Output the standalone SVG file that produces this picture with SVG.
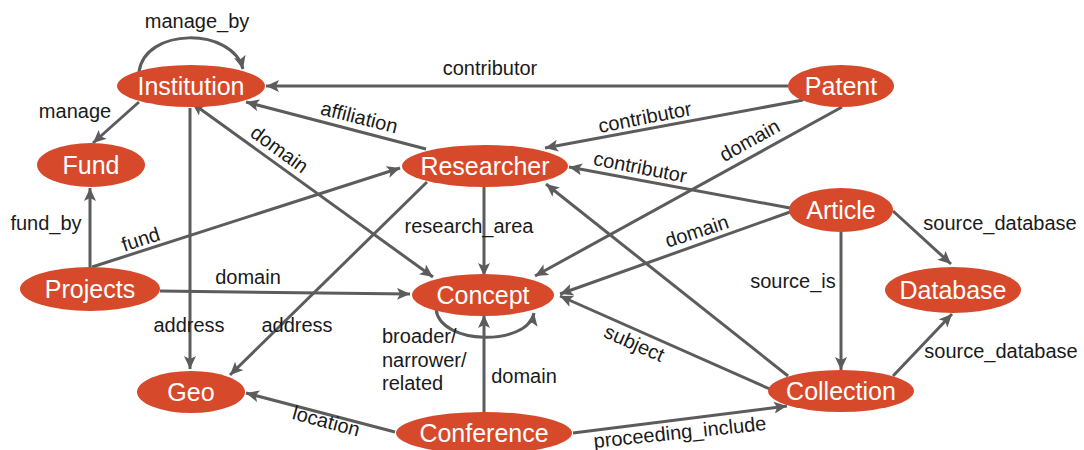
<svg xmlns="http://www.w3.org/2000/svg" width="1084" height="450" viewBox="0 0 1084 450">
<style>
.n ellipse{fill:#d64a2b}
.n text{fill:#fff;font-family:"Liberation Sans",Arial,sans-serif;font-size:25px;text-anchor:middle}
.e path{fill:none;stroke:#5c5c5c;stroke-width:3;marker-end:url(#ah)}
.l{font-family:"Liberation Sans",Arial,sans-serif;font-size:20px;fill:#1a1a1a;text-anchor:middle}
</style>
<defs>
<marker id="ah" markerUnits="userSpaceOnUse" markerWidth="14" markerHeight="12" refX="13" refY="6" orient="auto">
<path d="M0,0 L13,6 L0,12 L3,6 Z" fill="#5c5c5c"/>
</marker>
<marker id="as" markerUnits="userSpaceOnUse" markerWidth="14" markerHeight="12" refX="13" refY="6" orient="auto-start-reverse">
<path d="M0,0 L13,6 L0,12 L3,6 Z" fill="#5c5c5c"/>
</marker>
</defs>
<rect width="1084" height="450" fill="#fff"/>
<g id="connectors" class="e">
<path d="M139,72 C145,27 232,27 243,69"/>
<path d="M139,102 L93,143"/>
<path d="M90,267 L90,188"/>
<path d="M92,267 L400,168"/>
<path d="M160,291 L410,294"/>
<path d="M190,108 L190,369"/>
<path d="M427,182 L230,375"/>
<path d="M192,103 L433,277" style="marker-start:url(#as)"/>
<path d="M426,149 L246,102"/>
<path d="M788,86 L266,86"/>
<path d="M803,100 L545,148"/>
<path d="M842,107 L535,276"/>
<path d="M790,208 L569,167"/>
<path d="M790,212 L560,294"/>
<path d="M484,187 L484,276"/>
<path d="M436,309 C440,346 528,346 534,313"/>
<path d="M484,412 L484,315"/>
<path d="M395,432 L246,393"/>
<path d="M573,433 L787,406"/>
<path d="M772,390 L560,296"/>
<path d="M788,376 L546,184"/>
<path d="M841,232 L841,370"/>
<path d="M893,211 L951,264"/>
<path d="M893,376 L952,314"/>
</g>
<g id="labels">
<text class="l" x="197" y="28">manage_by</text>
<text class="l" x="75" y="118">manage</text>
<text class="l" x="490" y="75">contributor</text>
<text class="l" transform="translate(359,118) rotate(14)" y="6">affiliation</text>
<text class="l" transform="translate(279,150) rotate(36)" y="6">domain</text>
<text class="l" transform="translate(645,118) rotate(-11)" y="6">contributor</text>
<text class="l" transform="translate(640,168) rotate(11)" y="6">contributor</text>
<text class="l" transform="translate(750,141) rotate(-29)" y="6">domain</text>
<text class="l" transform="translate(697,232) rotate(-18)" y="6">domain</text>
<text class="l" x="469" y="233">research_area</text>
<text class="l" x="46" y="230">fund_by</text>
<text class="l" transform="translate(141,240) rotate(-18)" y="6">fund</text>
<text class="l" x="248" y="284">domain</text>
<text class="l" x="189" y="332">address</text>
<text class="l" x="297" y="332">address</text>
<text class="l" x="382" y="343" style="text-anchor:start">broader/</text>
<text class="l" x="382" y="367" style="text-anchor:start">narrower/</text>
<text class="l" x="382" y="390" style="text-anchor:start">related</text>
<text class="l" x="524" y="383">domain</text>
<text class="l" transform="translate(634,344) rotate(24)" y="6">subject</text>
<text class="l" transform="translate(680,433) rotate(-6)" y="6">proceeding_include</text>
<text class="l" transform="translate(326,422) rotate(15)" y="6">location</text>
<text class="l" x="793" y="288">source_is</text>
<text class="l" x="1000" y="230">source_database</text>
<text class="l" x="1001" y="358">source_database</text>
</g>
<g id="Institution" class="n"><ellipse cx="191" cy="86" rx="74" ry="21"/><text x="191" y="95">Institution</text></g>
<g id="Fund" class="n"><ellipse cx="91" cy="165" rx="54" ry="22"/><text x="91" y="174">Fund</text></g>
<g id="Researcher" class="n"><ellipse cx="485" cy="166" rx="83" ry="21"/><text x="485" y="175">Researcher</text></g>
<g id="Patent" class="n"><ellipse cx="841" cy="86" rx="53" ry="21"/><text x="841" y="95">Patent</text></g>
<g id="Article" class="n"><ellipse cx="841" cy="210" rx="52" ry="22"/><text x="841" y="219">Article</text></g>
<g id="Projects" class="n"><ellipse cx="90" cy="289" rx="70" ry="22"/><text x="90" y="298">Projects</text></g>
<g id="Concept" class="n"><ellipse cx="483" cy="295" rx="71" ry="21"/><text x="483" y="304">Concept</text></g>
<g id="Database" class="n"><ellipse cx="953" cy="290" rx="68" ry="23"/><text x="953" y="299">Database</text></g>
<g id="Geo" class="n"><ellipse cx="191" cy="392" rx="54" ry="21"/><text x="191" y="401">Geo</text></g>
<g id="Collection" class="n"><ellipse cx="841" cy="391" rx="73" ry="21"/><text x="841" y="400">Collection</text></g>
<g id="Conference" class="n"><ellipse cx="484" cy="433" rx="88" ry="21"/><text x="484" y="442">Conference</text></g>
</svg>
